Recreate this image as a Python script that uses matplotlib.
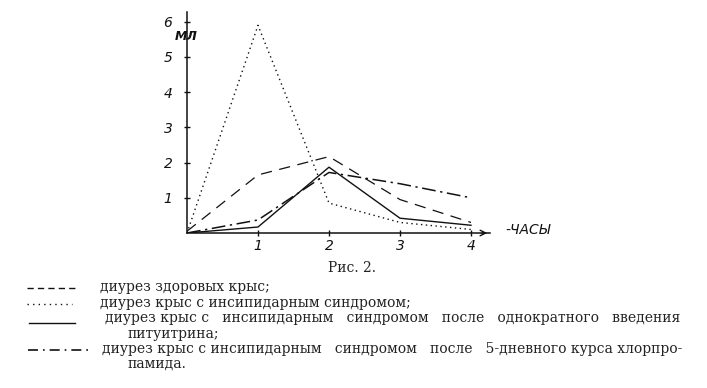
import matplotlib
matplotlib.use("Agg")
import matplotlib.pyplot as plt
from matplotlib.lines import Line2D

hours = [0, 1, 2, 3, 4]
healthy = [0.05, 1.65, 2.17, 0.95, 0.3]
insipidus = [0.0, 5.9, 0.85, 0.3, 0.1]
pituitrin = [0.0, 0.17, 1.87, 0.42, 0.22]
chlorpropamide = [0.0, 0.37, 1.72, 1.4, 1.0]
y_ticks = [1, 2, 3, 4, 5, 6]
x_ticks = [1, 2, 3, 4]
caption = "Рис. 2."
legend_texts = [
    "диурез здоровых крыс;",
    "диурез крыс с инсипидарным синдромом;",
    "диурез крыс с   инсипидарным   синдромом   после   однократного   введения",
    "питуитрина;",
    "диурез крыс с инсипидарным   синдромом   после   5-дневного курса хлорпро-",
    "памида.",
]

W, H = 707, 388
fig = plt.figure(figsize=(W / 100, H / 100), dpi=100)
ax = fig.add_axes([187 / W, (H - 233) / H, 303 / W, 221 / H])
ax.set_xlim(0, 303 / 71)
ax.set_ylim(0, 221 / 35.2)

ink = "#111111"
ax.plot(hours, healthy, color=ink, lw=0.9, linestyle=(0, (9, 6)))
ax.plot(hours, insipidus, color=ink, lw=1.0, linestyle=(0, (1, 2.5)))
ax.plot(hours, pituitrin, color=ink, lw=1.0, linestyle="-")
ax.plot(hours, chlorpropamide, color=ink, lw=1.1, linestyle=(0, (9, 3, 1.5, 3)))

for s in ["top", "right"]:
    ax.spines[s].set_visible(False)
for s in ["left", "bottom"]:
    ax.spines[s].set_color(ink)
    ax.spines[s].set_linewidth(1.1)

hand = dict(family="DejaVu Sans", style="italic", fontsize=10, color=ink)
ax.set_xticks(x_ticks)
ax.set_xticklabels([str(t) for t in x_ticks], **hand)
ax.set_yticks(y_ticks)
ax.set_yticklabels([str(t) for t in y_ticks], **hand)
ax.tick_params(axis="both", direction="inout", length=5, width=1, color=ink)
ax.tick_params(axis="x", pad=2)
ax.tick_params(axis="y", pad=8)

# axis arrow on x
ax.annotate("", xy=(303 / 71, 0), xytext=(303 / 71 - 0.15, 0),
            arrowprops=dict(arrowstyle="->", color=ink, lw=1), annotation_clip=False)
fig.text(505 / W, 1 - 230 / H, "-ЧАСЫ", ha="left", va="center", **hand)
fig.text(175 / W, 1 - 37 / H, "МЛ", ha="left", va="center",
         family="DejaVu Sans", style="italic", fontsize=9, fontweight="bold", color=ink)

serif = dict(family="DejaVu Serif", fontsize=10, color="#222222")
fig.text(352 / W, 1 - 268 / H, caption, ha="center", va="center", **serif)

ys = [287, 303, 318, 334, 349, 364]
xs = [100, 100, 105, 128, 102, 128]
for t, x, y in zip(legend_texts, xs, ys):
    fig.text(x / W, 1 - y / H, t, ha="left", va="center", **serif)

def fl(x0, x1, y, ls, lw=1.0):
    fig.add_artist(Line2D([x0 / W, x1 / W], [1 - y / H, 1 - y / H],
                          transform=fig.transFigure, color=ink, lw=lw, linestyle=ls))

fl(27, 76, 288, (0, (4.5, 3)))
fl(27, 72, 304, (0, (1, 3)))
fl(29, 75, 323, "-")
fl(28, 92, 350, (0, (6, 3, 1, 3)), lw=1.2)

fig.savefig("out.png", dpi=100)
